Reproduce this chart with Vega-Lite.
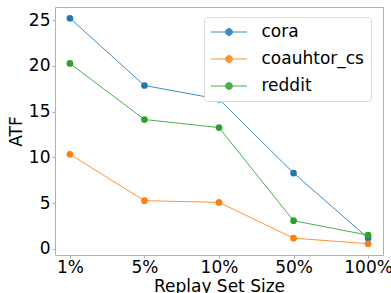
{
  "$schema": "https://vega.github.io/schema/vega-lite/v6.json",
  "width": 328,
  "height": 248,
  "autosize": "none",
  "padding": {"left": 55, "top": 7, "right": 8, "bottom": 38},
  "background": "white",
  "config": {
    "font": "DejaVu Sans",
    "view": {"stroke": "#b0b0b0", "strokeWidth": 1}
  },
  "data": {
    "values": [
      {"size": "1%", "dataset": "cora", "ATF": 25.2},
      {"size": "5%", "dataset": "cora", "ATF": 17.85},
      {"size": "10%", "dataset": "cora", "ATF": 16.35},
      {"size": "50%", "dataset": "cora", "ATF": 8.28},
      {"size": "100%", "dataset": "cora", "ATF": 1.16},
      {"size": "1%", "dataset": "coauhtor_cs", "ATF": 10.33},
      {"size": "5%", "dataset": "coauhtor_cs", "ATF": 5.26},
      {"size": "10%", "dataset": "coauhtor_cs", "ATF": 5.07},
      {"size": "50%", "dataset": "coauhtor_cs", "ATF": 1.16},
      {"size": "100%", "dataset": "coauhtor_cs", "ATF": 0.55},
      {"size": "1%", "dataset": "reddit", "ATF": 20.26},
      {"size": "5%", "dataset": "reddit", "ATF": 14.13},
      {"size": "10%", "dataset": "reddit", "ATF": 13.25},
      {"size": "50%", "dataset": "reddit", "ATF": 3.07},
      {"size": "100%", "dataset": "reddit", "ATF": 1.49}
    ]
  },
  "encoding": {
    "x": {
      "field": "size",
      "type": "ordinal",
      "sort": ["1%", "5%", "10%", "50%", "100%"],
      "scale": {"type": "point", "padding": 0.2},
      "axis": {
        "title": "Replay Set Size",
        "labelAngle": 0,
        "labelFontSize": 17,
        "labelColor": "black",
        "titleFontSize": 17,
        "titleFontWeight": "normal",
        "titleColor": "black",
        "titlePadding": 3,
        "tickSize": 3,
        "tickColor": "#b0b0b0",
        "labelPadding": 1,
        "domain": false,
        "grid": false
      }
    },
    "y": {
      "field": "ATF",
      "type": "quantitative",
      "scale": {"domain": [-0.68, 26.43], "nice": false, "zero": false},
      "axis": {
        "title": "ATF",
        "values": [0, 5, 10, 15, 20, 25],
        "labelFontSize": 17,
        "labelColor": "black",
        "titleFontSize": 17,
        "titleFontWeight": "normal",
        "titleColor": "black",
        "titlePadding": 3,
        "tickSize": 3,
        "tickColor": "#b0b0b0",
        "labelPadding": 2,
        "domain": false,
        "grid": false
      }
    },
    "color": {
      "field": "dataset",
      "type": "nominal",
      "sort": ["cora", "coauhtor_cs", "reddit"],
      "scale": {"domain": ["cora", "coauhtor_cs", "reddit"], "range": ["#1f77b4", "#ff7f0e", "#2ca02c"]},
      "legend": {
        "title": null,
        "orient": "none",
        "legendX": 149,
        "legendY": 10,
        "padding": 6.5,
        "fillColor": "white",
        "strokeColor": "#d9d9d9",
        "cornerRadius": 3,
        "labelFontSize": 17,
        "labelColor": "black",
        "labelOffset": 14,
        "rowPadding": 9,
        "clipHeight": 17,
        "symbolType": "M-1,0H1M0.19,0A0.19,0.19,0,1,1,-0.19,0A0.19,0.19,0,1,1,0.19,0Z",
        "symbolSize": 1296,
        "symbolStrokeWidth": 1,
        "encode": {
          "symbols": {
            "update": {
              "fill": {"scale": "color", "field": "value"},
              "stroke": {"scale": "color", "field": "value"},
              "opacity": {"value": 0.9}
            }
          }
        }
      }
    }
  },
  "layer": [
    {"mark": {"type": "line", "strokeWidth": 1, "opacity": 0.85}},
    {"mark": {"type": "point", "filled": true, "size": 45, "opacity": 1, "shape": "circle"}}
  ]
}
